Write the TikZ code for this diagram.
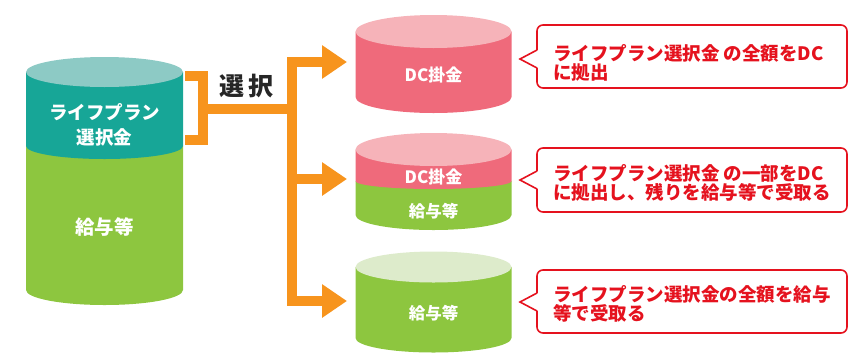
\documentclass[tikz,border=0pt]{standalone}
\usepackage{fontspec}
\IfFontExistsTF{Noto Sans CJK JP Black}
  {\newfontfamily\jp{Noto Sans CJK JP Black}\newcommand\jpwt{}}
  {\newfontfamily\jp{Noto Sans CJK JP}[BoldFeatures={FakeBold=1.2}]\newcommand\jpwt{\bfseries}}
\usetikzlibrary{arrows.meta}
\definecolor{tealbody}{HTML}{17A697}
\definecolor{tealtop}{HTML}{8DCAC5}
\definecolor{greenbody}{HTML}{8DC63F}
\definecolor{greentop}{HTML}{DDEBCB}
\definecolor{pinkbody}{HTML}{EF6A7B}
\definecolor{pinktop}{HTML}{F6B3B9}
\definecolor{flow}{HTML}{F7941D}
\definecolor{callred}{HTML}{E5121E}
\begin{document}
\begin{tikzpicture}[x=1pt,y=-1pt,
  flowline/.style={draw=flow, line width=10pt, line join=miter},
  bigtip/.style={-{Triangle[length=25pt,width=32pt]}},
  cyltext/.style={font=\jp\jpwt\fontsize{18.5}{25}\selectfont, text=white, align=center, inner sep=0pt},
  cyltextlg/.style={font=\jp\jpwt\fontsize{19.5}{25}\selectfont, text=white, align=center, inner sep=0pt},
  cyltextsm/.style={font=\jp\jpwt\fontsize{16.5}{20}\selectfont, text=white, align=center, inner sep=0pt},
  cyltextdc/.style={font=\jp\jpwt\fontsize{17}{20}\selectfont, text=white, align=center, inner sep=0pt},
  callbox/.style={draw=callred, fill=white, line width=1.6pt, rounded corners=6pt},
  callptr/.style={draw=callred, line width=1.6pt, line join=miter},
  calltext/.style={font=\jp\jpwt\fontsize{18.5}{19}\selectfont, text=callred, align=left, inner sep=0pt, anchor=west},
  labeltext/.style={font=\jp\jpwt\fontsize{25}{25}\selectfont, text=black!85, inner sep=0pt}
]
\useasboundingbox (0,0) rectangle (866,362);

% ---------- left cylinder ----------
\fill[greenbody] (26,146) -- (26,290) arc[start angle=180,end angle=0,x radius=78.5,y radius=15] -- (183,146) -- cycle;
\fill[tealbody] (26,72) -- (26,146) arc[start angle=180,end angle=0,x radius=78.5,y radius=13] -- (183,72) -- cycle;
\fill[tealtop] (104.5,72) ellipse[x radius=78.5,y radius=15];
\node[cyltext] (lp) at (104.5,124.5) {ライフプラン\\選択金};
\node[cyltextlg] (lk) at (104.5,227) {給与等};

% ---------- right cylinder 1 ----------
\fill[pinkbody] (355.5,31.5) -- (355.5,97) arc[start angle=180,end angle=0,x radius=78,y radius=16] -- (511.5,31.5) -- cycle;
\fill[pinktop] (433.5,31.5) ellipse[x radius=78,y radius=16.5];
\node[cyltextdc] (dc1) at (433.5,75) {DC掛金};

% ---------- right cylinder 2 ----------
\fill[greenbody] (355.5,181) -- (355.5,215) arc[start angle=180,end angle=0,x radius=78,y radius=15] -- (511.5,181) -- cycle;
\fill[pinkbody] (355.5,149.5) -- (355.5,181) arc[start angle=180,end angle=0,x radius=78,y radius=8] -- (511.5,149.5) -- cycle;
\fill[pinktop] (433.5,149.5) ellipse[x radius=78,y radius=16.5];
\node[cyltextdc] (dc2) at (433.5,177) {DC掛金};
\node[cyltextsm] (kk2) at (433.5,211) {給与等};

% ---------- right cylinder 3 ----------
\fill[greenbody] (355.5,267) -- (355.5,338) arc[start angle=180,end angle=0,x radius=78,y radius=14.5] -- (511.5,267) -- cycle;
\fill[greentop] (433.5,267) ellipse[x radius=78,y radius=15.5];
\node[cyltextsm] (kk3) at (433.5,313) {給与等};

% ---------- orange connectors ----------
\coordinate (bt) at (185,76);
\coordinate (bj) at (203,76);
\coordinate (bk) at (203,140);
\coordinate (bb) at (185,140);
\coordinate (bm) at (203,109);
\coordinate (tm) at (292,109);
\coordinate (tt) at (292,62);
\coordinate (tb) at (292,301);
\coordinate (tc) at (292,179);
\coordinate (a1) at (347,62);
\coordinate (a2) at (347,179);
\coordinate (a3) at (347,301);
\draw[flowline] (bt) -- (bj) -- (bk) -- (bb);
\draw[flowline] (bm) -- (tm);
\draw[flowline, {Triangle[length=25pt,width=32pt]}-{Triangle[length=25pt,width=32pt]}] (a1) -- (tt) -- (tb) -- (a3);
\draw[flowline, bigtip] (tc) -- (a2);
\node[labeltext] (sel) at (246,86) {選\hspace{4pt}択};

% ---------- callouts ----------
\draw[callbox] (537,25) rectangle (847,88);
\fill[white] (538.2,50) -- (520,59) -- (538.2,68) -- cycle;
\draw[callptr] (537,50) -- (520,59) -- (537,68);
\node[calltext] (c1) at (553,63) {ライフプラン選択金\hspace{4pt}の全額をDC\\に拠出};

\draw[callbox] (537,148) rectangle (847,212);
\fill[white] (538.2,171) -- (520,180) -- (538.2,189) -- cycle;
\draw[callptr] (537,171) -- (520,180) -- (537,189);
\node[calltext] (c2) at (553,183) {ライフプラン選択金\hspace{4pt}の一部をDC\\に拠出し、残りを給与等で受取る};

\draw[callbox] (537,270) rectangle (847,333);
\fill[white] (538.2,293) -- (520,302) -- (538.2,311) -- cycle;
\draw[callptr] (537,293) -- (520,302) -- (537,311);
\node[calltext] (c3) at (553,304) {ライフプラン選択金の全額を給与\\等で受取る};
\end{tikzpicture}
\end{document}
